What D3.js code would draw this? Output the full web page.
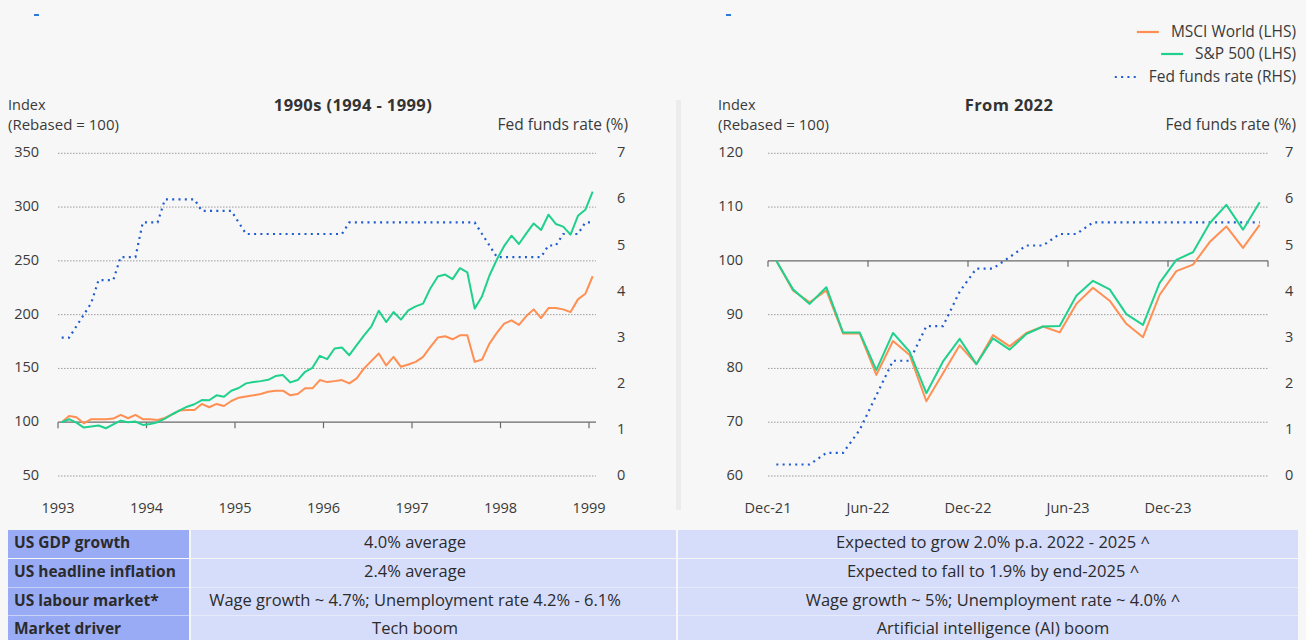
<!DOCTYPE html>
<html>
<head>
<meta charset="utf-8">
<script src="https://cdn.jsdelivr.net/npm/d3@7"></script>
<style>
  body { margin: 0; background: #f7f7f7; }
  svg { display: block; font-family: "Open Sans", sans-serif; }
</style>
</head>
<body>
<div id="chart"></div>
<script>
// ---- data: 1990s panel (monthly, rebased = 100) ----
var years90s = ["1993", "1994", "1995", "1996", "1997", "1998", "1999"];
var msci90s = [100, 105.8, 104.6, 99, 102.8, 102.8, 102.8, 103.4, 106.8, 103.7, 106.8, 102.8, 102.8, 102.1,
  104, 107.4, 111, 111.4, 111.4, 117, 113.9, 117, 115.1, 119.7, 122.8, 124, 125, 126.2, 128.3, 129.3,
  129.3, 125, 126.2, 131.5, 131.5, 139.2, 137.3, 138.2, 139.2, 136.1, 140.7, 150, 157, 163.9, 152.8,
  160.7, 151.5, 153.7, 156.1, 160.7, 170, 178.7, 179.9, 177.1, 180.8, 180.8, 156.1, 158.3, 173.1, 183,
  191.7, 194.7, 190.5, 198.7, 204.9, 196.8, 206.1, 206.1, 204.9, 202.4, 214.2, 219.4, 235.7];
var sp90s = [100, 102.8, 99.6, 95, 96, 97, 94.4, 98, 101.5, 100, 100.6, 97.5, 98.4, 100,
  103.3, 107.4, 111, 114.4, 116.7, 120.6, 120.4, 125, 123.7, 129.3, 131.8, 136.1, 137.3, 138.2, 139.4, 142.9,
  143.8, 137, 139.2, 146.9, 150.6, 161.7, 158.6, 168.5, 169.4, 162.3, 171.6, 180.8, 189.2, 203.7, 193.1,
  202.4, 195.4, 204, 207.7, 210.2, 224.6, 235.5, 237.3, 233, 243.2, 239.4, 205.6, 217.2, 236.4, 251.2,
  263.9, 273.4, 265.7, 275.6, 284.8, 278.7, 292.9, 284.3, 281.8, 274.4, 291.9, 297.5, 314.4];
var fed90s = [3, 3, 3.25, 3.5, 3.75, 4.25, 4.25, 4.25, 4.75, 4.75, 4.75, 5.5, 5.5, 5.5,
  6, 6, 6, 6, 6, 5.75, 5.75, 5.75, 5.75, 5.75, 5.5, 5.25, 5.25, 5.25, 5.25, 5.25,
  5.25, 5.25, 5.25, 5.25, 5.25, 5.25, 5.25, 5.25, 5.25, 5.5, 5.5, 5.5, 5.5, 5.5, 5.5,
  5.5, 5.5, 5.5, 5.5, 5.5, 5.5, 5.5, 5.5, 5.5, 5.5, 5.5, 5.5, 5.25, 5, 4.75,
  4.75, 4.75, 4.75, 4.75, 4.75, 4.75, 5, 5, 5.25, 5.25, 5.25, 5.5, 5.5];

// ---- data: from 2022 panel ----
var months22 = ["Dec-21", "Jun-22", "Dec-22", "Jun-23", "Dec-23", ""];
var msci22 = [100, 94.5, 92.3, 94.5, 86.5, 86.5, 78.8, 85.1, 82.5, 73.9, 79.1, 84.3, 80.8, 86.2, 84.1,
  86.6, 87.8, 86.7, 92.0, 95.0, 92.6, 88.3, 85.8, 93.7, 98.1, 99.3, 103.5, 106.4, 102.4, 106.7];
var sp22 = [100, 94.7, 92.0, 95.1, 86.7, 86.7, 79.7, 86.6, 83.1, 75.4, 81.3, 85.5, 80.8, 85.6, 83.5,
  86.4, 87.8, 87.9, 93.5, 96.3, 94.7, 90.1, 88.1, 95.9, 100.2, 101.6, 107, 110.4, 105.8, 110.9];
var fed22 = [0.25, 0.25, 0.25, 0.5, 0.5, 1.0, 1.75, 2.5, 2.5, 3.25, 3.25, 4.0, 4.5, 4.5, 4.75,
  5.0, 5.0, 5.25, 5.25, 5.5, 5.5, 5.5, 5.5, 5.5, 5.5, 5.5, 5.5, 5.5, 5.5, 5.5];

// ---- table ----
var rowNames = ["US GDP growth", "US headline inflation", "US labour market*", "Market driver"];
var col90s = ["4.0% average", "2.4% average", "Wage growth ~ 4.7%; Unemployment rate 4.2% - 6.1%", "Tech boom"];
var col22 = ["Expected to grow 2.0% p.a. 2022 - 2025 ^", "Expected to fall to 1.9% by end-2025 ^",
  "Wage growth ~ 5%; Unemployment rate ~ 4.0% ^", "Artificial intelligence (AI) boom"];

var legendItems = [
  { name: "MSCI World (LHS)", color: "#ff8f52", dash: null },
  { name: "S&P 500 (LHS)", color: "#1fd18c", dash: null },
  { name: "Fed funds rate (RHS)", color: "#1f5bd0", dash: "2,4.3" }
];

var width = 1306, height = 640;
var orange = "#ff8f52", green = "#1fd18c", blue = "#1f5bd0", textCol = "#3a3a3a";

var svg = d3.select("#chart").append("svg")
  .attr("width", width)
  .attr("height", height);

svg.append("rect").attr("width", width).attr("height", height).attr("fill", "#f7f7f7");

// little blue marks at the top
svg.append("rect").attr("x", 34).attr("y", 14).attr("width", 5).attr("height", 2).attr("fill", "#2a7ad8");
svg.append("rect").attr("x", 726).attr("y", 14).attr("width", 5).attr("height", 2).attr("fill", "#2a7ad8");

// separator between panels
svg.append("rect").attr("x", 676).attr("y", 100).attr("width", 5).attr("height", 410).attr("fill", "#ececec");

function drawPanel(cfg) {
  var g = svg.append("g");

  var x = d3.scaleLinear().domain([0, cfg.months]).range([cfg.x0, cfg.x1]);
  var y = d3.scaleLinear().domain(cfg.yDomain).range([476, 153.3]);
  var yR = d3.scaleLinear().domain([0, 7]).range([476, 153.3]);

  // gridlines
  g.selectAll(".grid").data(cfg.yTicks.filter(function(d) { return d !== cfg.base; }))
    .enter().append("line")
    .attr("x1", cfg.x0).attr("x2", cfg.gridEnd)
    .attr("y1", function(d) { return y(d); }).attr("y2", function(d) { return y(d); })
    .attr("stroke", "#9c9c9c").attr("stroke-width", 1).attr("stroke-dasharray", "1.5,1.5");

  // base axis at 100 with ticks
  g.append("line")
    .attr("x1", cfg.x0).attr("x2", cfg.gridEnd)
    .attr("y1", y(cfg.base)).attr("y2", y(cfg.base))
    .attr("stroke", "#6a6a6a").attr("stroke-width", 1.2);
  var tickVals = d3.range(0, cfg.months + 1, cfg.tickStep);
  g.selectAll(".xt").data(tickVals).enter().append("line")
    .attr("x1", function(d) { return x(d); }).attr("x2", function(d) { return x(d); })
    .attr("y1", y(cfg.base)).attr("y2", y(cfg.base) + 6)
    .attr("stroke", "#6a6a6a").attr("stroke-width", 1.2);

  // x labels at the bottom
  g.selectAll(".xl").data(tickVals).enter().append("text")
    .attr("x", function(d) { return x(d); })
    .attr("y", 513)
    .attr("text-anchor", "middle")
    .attr("font-size", 14.5)
    .attr("fill", textCol)
    .text(function(d, i) { return cfg.xLabels[i]; });

  // left axis labels
  g.selectAll(".yl").data(cfg.yTicks).enter().append("text")
    .attr("x", cfg.lLabelX)
    .attr("y", function(d) { return y(d) + 4; })
    .attr("text-anchor", "end")
    .attr("font-size", 14.5)
    .attr("fill", textCol)
    .text(function(d) { return d; });

  // right axis labels
  g.selectAll(".yr").data(d3.range(0, 8)).enter().append("text")
    .attr("x", cfg.rLabelX)
    .attr("y", function(d) { return yR(d) + 4; })
    .attr("font-size", 14.5)
    .attr("fill", textCol)
    .text(function(d) { return d; });

  // headings
  g.append("text").attr("x", cfg.indexX).attr("y", 109.5)
    .attr("font-size", 14.5).attr("fill", textCol).text("Index");
  g.append("text").attr("x", cfg.indexX).attr("y", 129.5)
    .attr("font-size", 15).attr("fill", textCol).text("(Rebased = 100)");
  g.append("text").attr("x", cfg.fedX).attr("y", 129.5).attr("text-anchor", "end")
    .attr("font-size", 15.5).attr("fill", textCol).text("Fed funds rate (%)");
  g.append("text").attr("x", cfg.titleX).attr("y", 111).attr("text-anchor", "middle")
    .attr("font-size", 16.5).attr("font-weight", "bold").attr("letter-spacing", 0.4)
    .attr("fill", "#333").text(cfg.title);

  // series
  var lineL = d3.line()
    .x(function(d, i) { return x(i + 0.5); })
    .y(function(d) { return y(d); });
  var lineR = d3.line()
    .x(function(d, i) { return x(i + 0.5); })
    .y(function(d) { return yR(d); });

  g.append("path").datum(cfg.fed)
    .attr("d", lineR)
    .attr("fill", "none")
    .attr("stroke", blue)
    .attr("stroke-width", 2.2)
    .attr("stroke-dasharray", "2,4.3");

  g.append("path").datum(cfg.msci)
    .attr("d", lineL)
    .attr("fill", "none")
    .attr("stroke", orange)
    .attr("stroke-width", 2)
    .attr("stroke-linejoin", "round");

  g.append("path").datum(cfg.sp)
    .attr("d", lineL)
    .attr("fill", "none")
    .attr("stroke", green)
    .attr("stroke-width", 2)
    .attr("stroke-linejoin", "round");
}

drawPanel({
  x0: 58, x1: 589, gridEnd: 596, months: 72, tickStep: 12,
  yDomain: [50, 350], yTicks: [50, 100, 150, 200, 250, 300, 350], base: 100,
  lLabelX: 39, rLabelX: 617, indexX: 8, fedX: 628, titleX: 353,
  title: "1990s (1994 - 1999)", xLabels: years90s,
  msci: msci90s, sp: sp90s, fed: fed90s
});

drawPanel({
  x0: 768, x1: 1268, gridEnd: 1268, months: 30, tickStep: 6,
  yDomain: [60, 120], yTicks: [60, 70, 80, 90, 100, 110, 120], base: 100,
  lLabelX: 743, rLabelX: 1285, indexX: 718, fedX: 1296, titleX: 1009,
  title: "From 2022", xLabels: months22,
  msci: msci22, sp: sp22, fed: fed22
});

// legend, right aligned
var legend = svg.append("g");
var legendY = [32, 54, 77];
legendItems.forEach(function(item, i) {
  var t = legend.append("text")
    .attr("x", 1296).attr("y", legendY[i] + 5)
    .attr("text-anchor", "end")
    .attr("font-size", 15.5)
    .attr("fill", textCol)
    .text(item.name);
  var w = t.node().getComputedTextLength();
  var endX = 1296 - w - 12;
  legend.append("line")
    .attr("x1", endX - 22).attr("x2", endX)
    .attr("y1", legendY[i]).attr("y2", legendY[i])
    .attr("stroke", item.color)
    .attr("stroke-width", 2.2)
    .attr("stroke-dasharray", item.dash);
});

// table under the charts
var rowTop = [530, 559, 587.5, 616];
var rowH = 28;
var table = svg.append("g");
rowNames.forEach(function(name, i) {
  table.append("rect").attr("x", 8).attr("y", rowTop[i]).attr("width", 181).attr("height", rowH)
    .attr("fill", "#9aabf6");
  table.append("rect").attr("x", 191).attr("y", rowTop[i]).attr("width", 485).attr("height", rowH)
    .attr("fill", "#d6ddfb");
  table.append("rect").attr("x", 678).attr("y", rowTop[i]).attr("width", 620).attr("height", rowH)
    .attr("fill", "#d6ddfb");
  table.append("text").attr("x", 14).attr("y", rowTop[i] + 18)
    .attr("font-size", 15.5).attr("font-weight", "bold").attr("fill", "#2b2b2b").text(name);
  table.append("text").attr("x", 415).attr("y", rowTop[i] + 18).attr("text-anchor", "middle")
    .attr("font-size", 16.5).attr("fill", "#2b2b2b").text(col90s[i]);
  table.append("text").attr("x", 993).attr("y", rowTop[i] + 18).attr("text-anchor", "middle")
    .attr("font-size", 16.5).attr("fill", "#2b2b2b").text(col22[i]);
});
</script>
</body>
</html>
